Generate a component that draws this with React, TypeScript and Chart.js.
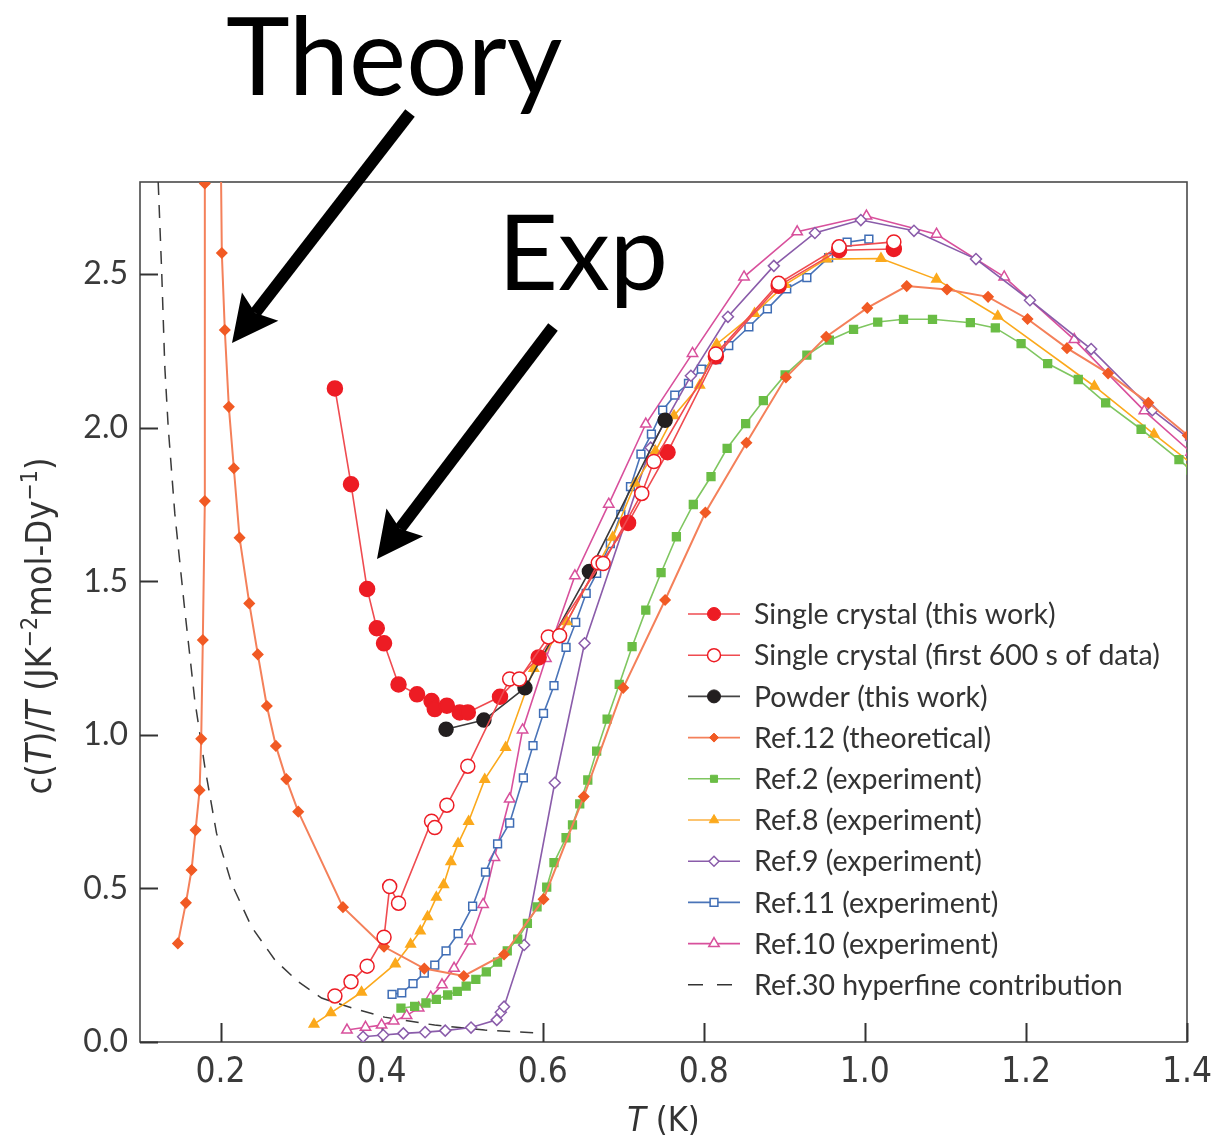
import React, { useEffect, useRef } from "react";
import { Chart, registerables } from "chart.js";

Chart.register(...registerables);

// ---------------- data ----------------
const xTickValues = [0.2, 0.4, 0.6, 0.8, 1.0, 1.2, 1.4];
const yTickValues = [0.0, 0.5, 1.0, 1.5, 2.0, 2.5];

const legendLabels = [
  "Single crystal (this work)",
  "Single crystal (first 600 s of data)",
  "Powder (this work)",
  "Ref.12 (theoretical)",
  "Ref.2 (experiment)",
  "Ref.8 (experiment)",
  "Ref.9 (experiment)",
  "Ref.11 (experiment)",
  "Ref.10 (experiment)",
  "Ref.30 hyperfine contribution",
];

const crystalT = [0.342, 0.362, 0.382, 0.394, 0.403, 0.421, 0.444, 0.462, 0.466, 0.481, 0.497, 0.507, 0.547, 0.595, 0.706, 0.755, 0.815, 0.893, 0.968, 1.036];
const crystalC = [2.128, 1.816, 1.475, 1.347, 1.298, 1.164, 1.132, 1.110, 1.084, 1.095, 1.073, 1.073, 1.124, 1.252, 1.690, 1.920, 2.232, 2.462, 2.578, 2.582];

const first600T = [0.342, 0.362, 0.382, 0.403, 0.410, 0.421, 0.462, 0.466, 0.481, 0.507, 0.559, 0.571, 0.607, 0.621, 0.669, 0.675, 0.723, 0.738, 0.815, 0.893, 0.968, 1.036];
const first600C = [0.150, 0.196, 0.247, 0.341, 0.506, 0.452, 0.719, 0.698, 0.771, 0.898, 1.182, 1.182, 1.319, 1.323, 1.560, 1.558, 1.786, 1.890, 2.240, 2.470, 2.589, 2.605];

const powderT = [0.480, 0.527, 0.578, 0.658, 0.752];
const powderC = [1.018, 1.048, 1.153, 1.532, 2.024];

const ref12T = [0.147, 0.157, 0.164, 0.169, 0.174, 0.176, 0.178, 0.1805, 0.1805, 0.181, 0.1995, 0.2016, 0.2053, 0.2103, 0.2165, 0.2236, 0.2357, 0.2463, 0.2575, 0.2687, 0.2816, 0.2965, 0.352, 0.403, 0.453, 0.502, 0.552, 0.601, 0.651, 0.700, 0.752, 0.802, 0.853, 0.902, 0.952, 1.003, 1.052, 1.102, 1.153, 1.202, 1.251, 1.302, 1.352, 1.401];
const ref12C = [0.321, 0.453, 0.560, 0.690, 0.820, 0.987, 1.309, 1.761, 2.795, 3.1, 3.1, 2.569, 2.318, 2.068, 1.868, 1.642, 1.428, 1.262, 1.094, 0.964, 0.856, 0.750, 0.439, 0.310, 0.239, 0.215, 0.285, 0.465, 0.799, 1.153, 1.439, 1.724, 1.951, 2.164, 2.296, 2.390, 2.461, 2.450, 2.426, 2.354, 2.259, 2.177, 2.081, 1.975];

const ref2T = [0.424, 0.441, 0.455, 0.468, 0.482, 0.494, 0.505, 0.517, 0.530, 0.544, 0.556, 0.569, 0.581, 0.593, 0.605, 0.614, 0.629, 0.637, 0.646, 0.656, 0.667, 0.680, 0.695, 0.711, 0.728, 0.747, 0.766, 0.787, 0.809, 0.829, 0.852, 0.874, 0.901, 0.928, 0.956, 0.986, 1.016, 1.048, 1.084, 1.131, 1.162, 1.194, 1.227, 1.265, 1.299, 1.343, 1.390, 1.405];
const ref2C = [0.110, 0.116, 0.127, 0.139, 0.153, 0.165, 0.182, 0.204, 0.228, 0.260, 0.297, 0.335, 0.386, 0.440, 0.504, 0.584, 0.665, 0.707, 0.775, 0.853, 0.947, 1.051, 1.164, 1.287, 1.406, 1.528, 1.645, 1.750, 1.841, 1.933, 2.013, 2.088, 2.172, 2.236, 2.285, 2.320, 2.344, 2.353, 2.353, 2.342, 2.325, 2.274, 2.209, 2.157, 2.081, 1.995, 1.896, 1.862];

const ref8T = [0.316, 0.337, 0.375, 0.417, 0.436, 0.448, 0.457, 0.468, 0.477, 0.486, 0.495, 0.508, 0.528, 0.554, 0.589, 0.630, 0.687, 0.715, 0.740, 0.763, 0.795, 0.816, 0.863, 0.901, 0.952, 1.020, 1.089, 1.165, 1.285, 1.359, 1.405];
const ref8C = [0.058, 0.095, 0.162, 0.254, 0.318, 0.361, 0.408, 0.471, 0.512, 0.587, 0.646, 0.718, 0.855, 0.959, 1.216, 1.368, 1.643, 1.819, 1.924, 2.039, 2.138, 2.272, 2.372, 2.466, 2.549, 2.551, 2.483, 2.363, 2.135, 1.979, 1.885];

const ref9T = [0.377, 0.402, 0.427, 0.454, 0.479, 0.511, 0.543, 0.548, 0.552, 0.577, 0.615, 0.652, 0.734, 0.784, 0.830, 0.887, 0.938, 0.995, 1.061, 1.138, 1.205, 1.281, 1.357, 1.405];
const ref9C = [0.017, 0.023, 0.028, 0.032, 0.037, 0.047, 0.072, 0.097, 0.115, 0.316, 0.844, 1.298, 1.935, 2.169, 2.361, 2.527, 2.634, 2.676, 2.641, 2.549, 2.415, 2.256, 2.057, 1.960];

const ref11T = [0.413, 0.425, 0.439, 0.453, 0.466, 0.480, 0.495, 0.513, 0.529, 0.544, 0.559, 0.576, 0.588, 0.601, 0.614, 0.629, 0.641, 0.654, 0.667, 0.684, 0.697, 0.709, 0.722, 0.735, 0.749, 0.764, 0.781, 0.797, 0.816, 0.831, 0.856, 0.879, 0.903, 0.928, 0.955, 0.978, 1.005];
const ref11C = [0.155, 0.160, 0.190, 0.224, 0.250, 0.297, 0.353, 0.442, 0.553, 0.645, 0.713, 0.860, 0.965, 1.070, 1.160, 1.285, 1.366, 1.461, 1.526, 1.623, 1.718, 1.808, 1.914, 1.979, 2.057, 2.106, 2.144, 2.191, 2.222, 2.267, 2.328, 2.387, 2.452, 2.489, 2.554, 2.604, 2.614];

const ref10T = [0.357, 0.380, 0.400, 0.415, 0.431, 0.446, 0.461, 0.475, 0.490, 0.510, 0.526, 0.540, 0.559, 0.575, 0.604, 0.640, 0.682, 0.728, 0.786, 0.850, 0.916, 1.002, 1.089, 1.173, 1.260, 1.347, 1.405];
const ref10C = [0.039, 0.048, 0.055, 0.068, 0.086, 0.111, 0.146, 0.186, 0.240, 0.329, 0.448, 0.601, 0.791, 1.016, 1.249, 1.518, 1.751, 2.012, 2.242, 2.491, 2.638, 2.689, 2.630, 2.491, 2.287, 2.055, 1.920];

const hyperT = [0.1226, 0.127, 0.1308, 0.135, 0.1432, 0.1549, 0.168, 0.1805, 0.195, 0.2137, 0.2385, 0.2675, 0.2965, 0.3255, 0.3627, 0.4037, 0.4658, 0.528, 0.5988];
const hyperC = [2.80, 2.503, 2.198, 2.003, 1.721, 1.423, 1.113, 0.896, 0.680, 0.516, 0.375, 0.267, 0.196, 0.143, 0.111, 0.081, 0.055, 0.039, 0.029];

// ---------------- styling ----------------
const SANS = "Lato, 'Open Sans', 'DejaVu Sans', sans-serif";
const NARROW = "'Liberation Sans Narrow', 'DejaVu Sans Condensed', 'Roboto Condensed', 'Liberation Sans', sans-serif";

const pts = (xs: number[], ys: number[]) => xs.map((x, i) => ({ x, y: ys[i] }));

type Marker = { style: string; r: number; fill: string; stroke: string; lw: number; line: string; dash?: number[] };

const legendMarkers: Marker[] = [
  { style: "circle", r: 6.5, fill: "#ED1C24", stroke: "#ED1C24", lw: 1, line: "#EF4B50" },
  { style: "circle", r: 6.5, fill: "#ffffff", stroke: "#ED1C24", lw: 1.5, line: "#EF4B50" },
  { style: "circle", r: 6.5, fill: "#231F20", stroke: "#231F20", lw: 1, line: "#444444" },
  { style: "rectRot", r: 4.5, fill: "#F15A24", stroke: "#F15A24", lw: 1, line: "#F4805A" },
  { style: "rect", r: 5, fill: "#6ABD45", stroke: "#6ABD45", lw: 1, line: "#7FC660" },
  { style: "triangle", r: 5.5, fill: "#FBA91C", stroke: "#FBA91C", lw: 1, line: "#FBB040" },
  { style: "rectRot", r: 5, fill: "#ffffff", stroke: "#8A5CAA", lw: 1.5, line: "#8A5CAA" },
  { style: "rect", r: 5.5, fill: "#ffffff", stroke: "#3F6DB5", lw: 1.5, line: "#4A74B8" },
  { style: "triangle", r: 6, fill: "#ffffff", stroke: "#D8509C", lw: 1.5, line: "#D8509C" },
  { style: "none", r: 0, fill: "", stroke: "", lw: 0, line: "#333333", dash: [14, 14] },
];

function drawMarker(ctx: CanvasRenderingContext2D, m: Marker, x: number, y: number) {
  if (m.style === "none") return;
  const r = m.r;
  ctx.beginPath();
  if (m.style === "circle") {
    ctx.arc(x, y, r, 0, Math.PI * 2);
  } else if (m.style === "rect") {
    const s = r * Math.SQRT1_2;
    ctx.rect(x - s, y - s, 2 * s, 2 * s);
  } else if (m.style === "rectRot") {
    ctx.moveTo(x, y - r);
    ctx.lineTo(x + r, y);
    ctx.lineTo(x, y + r);
    ctx.lineTo(x - r, y);
    ctx.closePath();
  } else if (m.style === "triangle") {
    for (let k = 0; k < 3; k++) {
      const a = (k * 2 * Math.PI) / 3;
      const px = x + Math.sin(a) * r;
      const py = y - Math.cos(a) * r;
      if (k === 0) ctx.moveTo(px, py);
      else ctx.lineTo(px, py);
    }
    ctx.closePath();
  }
  ctx.fillStyle = m.fill;
  ctx.fill();
  ctx.lineWidth = m.lw;
  ctx.strokeStyle = m.stroke;
  ctx.stroke();
}

type Seg = { t: string; italic?: boolean; sup?: boolean };

function drawRich(ctx: CanvasRenderingContext2D, segs: Seg[], size: number, family: string, weight: string) {
  const fontFor = (s: Seg) => `${s.italic ? "italic " : ""}${weight} ${s.sup ? Math.round(size * 0.65) : size}px ${family}`;
  let total = 0;
  for (const s of segs) {
    ctx.font = fontFor(s);
    total += ctx.measureText(s.t).width;
  }
  let x = -total / 2;
  for (const s of segs) {
    ctx.font = fontFor(s);
    ctx.fillText(s.t, x, s.sup ? -size * 0.38 : 0);
    x += ctx.measureText(s.t).width;
  }
}

function drawArrow(ctx: CanvasRenderingContext2D, tx: number, ty: number, hx: number, hy: number) {
  const dx = hx - tx;
  const dy = hy - ty;
  const len = Math.hypot(dx, dy);
  const ux = dx / len;
  const uy = dy / len;
  const nx = -uy;
  const ny = ux;
  const headLen = 46;
  const headHalf = 23;
  const notch = 8;
  const bx = hx - ux * headLen;
  const by = hy - uy * headLen;
  ctx.beginPath();
  ctx.lineWidth = 12;
  ctx.lineCap = "butt";
  ctx.strokeStyle = "#000";
  ctx.moveTo(tx, ty);
  ctx.lineTo(bx + ux * notch, by + uy * notch);
  ctx.stroke();
  ctx.beginPath();
  ctx.moveTo(hx, hy);
  ctx.lineTo(bx + nx * headHalf, by + ny * headHalf);
  ctx.lineTo(bx + ux * notch, by + uy * notch);
  ctx.lineTo(bx - nx * headHalf, by - ny * headHalf);
  ctx.closePath();
  ctx.fillStyle = "#000";
  ctx.fill();
}

const decorPlugin = {
  id: "decor",
  beforeDatasetsDraw(chart: any) {
    const { ctx, chartArea: a, scales } = chart;
    const x = scales.x;
    const y = scales.y;
    ctx.save();
    ctx.strokeStyle = "#4a4a4a";
    ctx.lineWidth = 1.6;
    ctx.strokeRect(a.left, a.top, a.right - a.left, a.bottom - a.top);
    ctx.strokeStyle = "#333";
    ctx.lineWidth = 2;
    for (const v of yTickValues) {
      const py = Math.round(y.getPixelForValue(v)) + 0.5;
      ctx.beginPath();
      ctx.moveTo(a.left, py);
      ctx.lineTo(a.left + 18, py);
      ctx.stroke();
    }
    for (const v of xTickValues) {
      const px = Math.round(x.getPixelForValue(v)) + 0.5;
      ctx.beginPath();
      ctx.moveTo(px, a.bottom);
      ctx.lineTo(px, a.bottom - 19);
      ctx.stroke();
    }
    ctx.restore();
  },
  afterDraw(chart: any) {
    const { ctx, chartArea: a } = chart;
    ctx.save();
    // axis titles
    ctx.fillStyle = "#333";
    ctx.textBaseline = "alphabetic";
    ctx.save();
    ctx.translate(51, (a.top + a.bottom) / 2 + 14);
    ctx.rotate(-Math.PI / 2);
    drawRich(
      ctx,
      [
        { t: "c(" },
        { t: "T", italic: true },
        { t: ")/" },
        { t: "T", italic: true },
        { t: " (JK" },
        { t: "\u22122", sup: true },
        { t: "mol-Dy" },
        { t: "\u22121", sup: true },
        { t: ")" },
      ],
      36,
      NARROW,
      "300"
    );
    ctx.restore();
    ctx.save();
    ctx.translate((a.left + a.right) / 2, 1131);
    drawRich(ctx, [{ t: "T", italic: true }, { t: " (K)" }], 34, NARROW, "300");
    ctx.restore();

    // annotations
    ctx.fillStyle = "#000";
    ctx.font = `400 108px ${SANS}`;
    ctx.textAlign = "left";
    ctx.fillText("Theory", 226, 95);
    ctx.font = `400 104px ${SANS}`;
    ctx.fillText("Exp", 498, 290);
    drawArrow(ctx, 410, 113, 232, 343);
    drawArrow(ctx, 553, 327, 377, 559);

    // legend
    const rowY0 = 614;
    const rowStep = 41.2;
    ctx.font = `400 28.5px ${SANS}`;
    ctx.textBaseline = "middle";
    for (let i = 0; i < legendLabels.length; i++) {
      const m = legendMarkers[i];
      const ry = rowY0 + i * rowStep;
      ctx.strokeStyle = m.line;
      ctx.lineWidth = 1.6;
      if (m.dash) {
        ctx.beginPath();
        ctx.moveTo(688, ry);
        ctx.lineTo(703, ry);
        ctx.moveTo(717, ry);
        ctx.lineTo(732, ry);
        ctx.stroke();
      } else {
        ctx.beginPath();
        ctx.moveTo(688, ry);
        ctx.lineTo(740, ry);
        ctx.stroke();
        drawMarker(ctx, m, 714, ry);
      }
      ctx.fillStyle = "#333";
      ctx.fillText(legendLabels[i], 754, ry + 1);
    }
    ctx.restore();
  },
};

function series(label: string, xs: number[], ys: number[], o: any) {
  return {
    label,
    data: pts(xs, ys),
    showLine: true,
    clip: 0,
    borderWidth: 1.6,
    pointBorderWidth: 1.5,
    ...o,
  };
}

export default function App() {
  const ref = useRef<HTMLCanvasElement | null>(null);
  useEffect(() => {
    if (!ref.current) return;
    const chart = new Chart(ref.current, {
      type: "scatter",
      data: {
        datasets: [
          series(legendLabels[1], first600T, first600C, {
            order: 0,
            borderColor: "#EF4B50",
            pointStyle: "circle",
            pointRadius: 7,
            pointBackgroundColor: "#ffffff",
            pointBorderColor: "#ED1C24",
          }),
          series(legendLabels[0], crystalT, crystalC, {
            order: 1,
            borderColor: "#EF4B50",
            pointStyle: "circle",
            pointRadius: 7.5,
            pointBackgroundColor: "#ED1C24",
            pointBorderColor: "#ED1C24",
          }),
          series(legendLabels[2], powderT, powderC, {
            order: 2,
            borderColor: "#3a3a3a",
            pointStyle: "circle",
            pointRadius: 7,
            pointBackgroundColor: "#231F20",
            pointBorderColor: "#231F20",
          }),
          series(legendLabels[3], ref12T, ref12C, {
            order: 3,
            borderColor: "#F4805A",
            borderWidth: 2,
            pointStyle: "rectRot",
            pointRadius: 5,
            pointBackgroundColor: "#F15A24",
            pointBorderColor: "#F15A24",
          }),
          series(legendLabels[4], ref2T, ref2C, {
            order: 4,
            borderColor: "#7FC660",
            pointStyle: "rect",
            pointRadius: 5.5,
            pointBackgroundColor: "#6ABD45",
            pointBorderColor: "#6ABD45",
          }),
          series(legendLabels[5], ref8T, ref8C, {
            order: 5,
            borderColor: "#FBA91C",
            pointStyle: "triangle",
            pointRadius: 5.5,
            pointBackgroundColor: "#FBA91C",
            pointBorderColor: "#FBA91C",
          }),
          series(legendLabels[6], ref9T, ref9C, {
            order: 6,
            borderColor: "#8A5CAA",
            pointStyle: "rectRot",
            pointRadius: 5.5,
            pointBackgroundColor: "#ffffff",
            pointBorderColor: "#8A5CAA",
          }),
          series(legendLabels[7], ref11T, ref11C, {
            order: 7,
            borderColor: "#4A74B8",
            pointStyle: "rect",
            pointRadius: 5.5,
            pointBackgroundColor: "#ffffff",
            pointBorderColor: "#3F6DB5",
          }),
          series(legendLabels[8], ref10T, ref10C, {
            order: 8,
            borderColor: "#D8509C",
            pointStyle: "triangle",
            pointRadius: 6,
            pointBackgroundColor: "#ffffff",
            pointBorderColor: "#D8509C",
          }),
          series(legendLabels[9], hyperT, hyperC, {
            order: 9,
            borderColor: "#3a3a3a",
            borderWidth: 1.5,
            borderDash: [13, 10],
            pointRadius: 0,
          }),
        ],
      },
      options: {
        animation: false,
        responsive: false,
        devicePixelRatio: 1,
        layout: { padding: { top: 182, right: 43, bottom: 0, left: 0 } },
        scales: {
          x: {
            type: "linear",
            min: 0.1,
            max: 1.4,
            afterFit: (s: any) => {
              s.height = 96;
            },
            ticks: {
              stepSize: 0.2,
              includeBounds: false,
              autoSkip: false,
              maxRotation: 0,
              padding: 10,
              color: "#3a3a3a",
              font: { family: NARROW, size: 35, weight: "300" },
              callback: (v: any) => Number(v).toFixed(1),
            },
            grid: { display: false, drawTicks: false },
            border: { display: false },
          },
          y: {
            type: "linear",
            min: 0,
            max: 2.8,
            afterFit: (s: any) => {
              s.width = 140;
            },
            ticks: {
              stepSize: 0.5,
              includeBounds: false,
              padding: 12,
              color: "#3a3a3a",
              font: { family: SANS, size: 32, weight: "400" },
              callback: (v: any) => Number(v).toFixed(1),
            },
            grid: { display: false, drawTicks: false },
            border: { display: false },
          },
        },
        plugins: {
          legend: { display: false },
          tooltip: { enabled: false },
        },
      },
      plugins: [decorPlugin],
    });
    return () => chart.destroy();
  }, []);

  return (
    <div style={{ position: "absolute", left: 0, top: 0, width: 1230, height: 1138, background: "#fff" }}>
      <canvas ref={ref} width={1230} height={1138} style={{ width: 1230, height: 1138, display: "block" }} />
    </div>
  );
}
